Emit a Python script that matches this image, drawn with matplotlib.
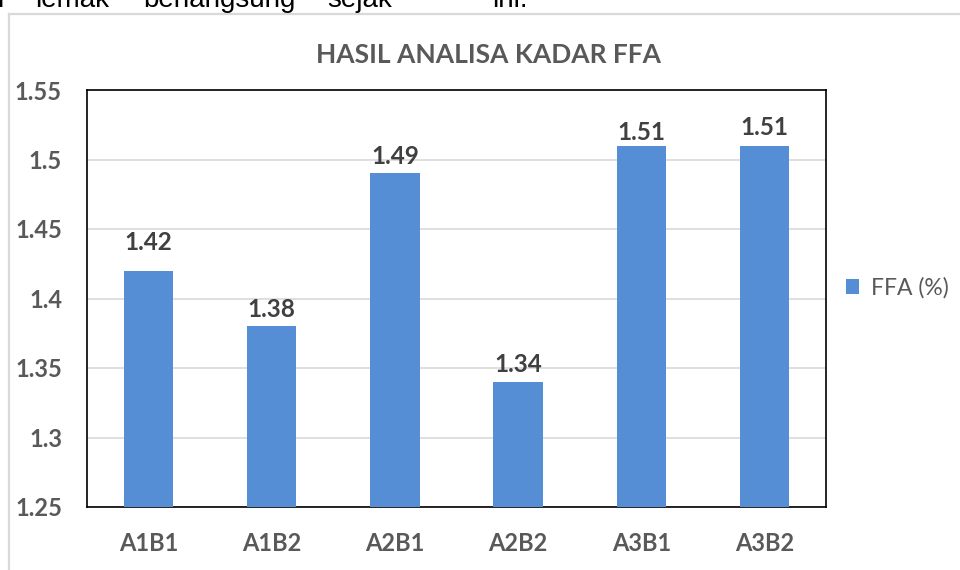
import matplotlib
matplotlib.use("Agg")
import matplotlib.pyplot as plt
from matplotlib.lines import Line2D
import numpy as np

categories = ["A1B1", "A1B2", "A2B1", "A2B2", "A3B1", "A3B2"]
ffa_values = [1.42, 1.38, 1.49, 1.34, 1.51, 1.51]
y_ticks = [1.25, 1.3, 1.35, 1.4, 1.45, 1.5, 1.55]
y_tick_labels = ["1.25", "1.3", "1.35", "1.4", "1.45", "1.5", "1.55"]
title = "HASIL ANALISA KADAR FFA"
series_name = "FFA (%)"
label_offsets_pt = [12, 4, 4, 4, 1, 5]

bar_color = "#558ED5"
gray_text = "#595959"
label_text = "#404040"
font = "Lato"

fig = plt.figure(figsize=(9.6, 5.7), dpi=100)
fig.patch.set_facecolor("white")

# document text cut off at top
for word, xpx in [("i", -3), ("lemak", 35), ("berlangsung", 143), ("sejak", 327), ("ini.", 492)]:
    fig.text(xpx / 960, 1 - 7 / 570, word, fontsize=20, family="Liberation Sans",
             color="black", ha="left", va="baseline")

# chart area frame (light gray)
fx, fy = 9 / 960, 1 - 13.5 / 570
fig.add_artist(Line2D([fx, fx], [0, fy], transform=fig.transFigure, color="#d9d9d9", lw=1.6))
fig.add_artist(Line2D([fx, 1], [fy, fy], transform=fig.transFigure, color="#d9d9d9", lw=1.6))

ax = fig.add_axes([87 / 960, 1 - 507 / 570, (826 - 87) / 960, (507 - 90) / 570])
x = np.arange(len(categories))
bars = ax.bar(x, ffa_values, width=0.40, color=bar_color, zorder=3, label=series_name)

ax.set_ylim(1.25, 1.55)
ax.set_xlim(-0.5, len(categories) - 0.5)
ax.set_yticks(y_ticks)
ax.set_yticklabels(y_tick_labels)
ax.set_xticks(x)
ax.set_xticklabels(categories)
ax.yaxis.grid(True, color="#d9d9d9", lw=1.2, zorder=0)
ax.set_axisbelow(True)
ax.tick_params(axis="both", length=0)
ax.tick_params(axis="y", pad=18)
ax.tick_params(axis="x", pad=18)
for lab in ax.get_yticklabels() + ax.get_xticklabels():
    lab.set_fontfamily(font)
    lab.set_fontweight("bold")
    lab.set_fontsize(17)
    lab.set_color(gray_text)
for sp in ax.spines.values():
    sp.set_color("black")
    sp.set_linewidth(1.2)

for xi, v, off in zip(x, ffa_values, label_offsets_pt):
    ax.annotate(f"{v:.2f}", (xi, v), xytext=(0, off), textcoords="offset points",
                ha="center", va="bottom", fontsize=17.5, fontweight="bold",
                family=font, color=label_text)

fig.text(488 / 960, 1 - 55 / 570, title, ha="center", va="center",
         fontsize=19, fontweight="bold", family=font, color=gray_text)

leg = fig.legend(handles=[bars], labels=[series_name], loc="center left",
                 bbox_to_anchor=(841 / 960, 1 - 288 / 570), frameon=False,
                 handlelength=0.6, handleheight=0.6, handletextpad=0.5,
                 borderaxespad=0.0, borderpad=0.2,
                 prop={"family": font, "size": 16.5})
for t in leg.get_texts():
    t.set_color(gray_text)

fig.savefig("out.png", dpi=100)
